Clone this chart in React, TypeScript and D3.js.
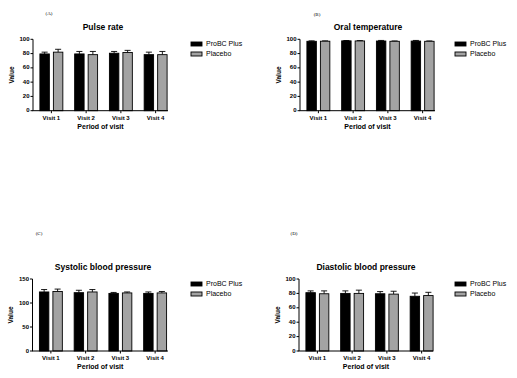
import React from "react";
import * as d3 from "d3";

const visits = ["Visit 1", "Visit 2", "Visit 3", "Visit 4"];
const seriesNames = ["ProBC Plus", "Placebo"];

const pulseProbc = [79.5, 79.5, 80.5, 78.5];
const pulseProbcErr = [2.5, 3.5, 2.5, 3.5];
const pulsePlacebo = [82, 78.5, 81.5, 78.5];
const pulsePlaceboErr = [4, 4.5, 3, 4.5];

const tempProbc = [97.2, 97.8, 97.6, 97.5];
const tempProbcErr = [0.6, 0.5, 0.8, 0.9];
const tempPlacebo = [97.3, 97.7, 97.2, 97.2];
const tempPlaceboErr = [0.5, 0.5, 0.5, 0.5];

const sysProbc = [123, 121.5, 120, 120];
const sysProbcErr = [5, 5, 2, 3];
const sysPlacebo = [124, 123, 121, 121];
const sysPlaceboErr = [5, 5, 2, 3];

const diaProbc = [81, 80, 79.5, 76];
const diaProbcErr = [2.5, 3.5, 3, 4.5];
const diaPlacebo = [79.5, 80, 79, 77];
const diaPlaceboErr = [4, 4.5, 4, 4.5];

const ticks100 = [0, 20, 40, 60, 80, 100];
const ticks150 = [0, 50, 100, 150];

const colors = ["#000000", "#a3a3a3"];
const SANS = "Liberation Sans, Arial, sans-serif";

type PanelProps = {
  tag: string;
  tagX: number;
  tagY: number;
  title: string;
  titleX: number;
  titleY: number;
  axisX: number;
  axisRight: number;
  yTop: number;
  yBottom: number;
  yMax: number;
  ticks: number[];
  values: number[][];
  errs: number[][];
  legendX: number;
  legendY: number;
};

function Panel(p: PanelProps) {
  const y = d3.scaleLinear().domain([0, p.yMax]).range([p.yBottom, p.yTop]);
  const x0 = d3
    .scaleBand<string>()
    .domain(visits)
    .range([p.axisX + 1, p.axisX + 140])
    .paddingInner(0.34)
    .paddingOuter(0.17);
  const x1 = d3
    .scaleBand<string>()
    .domain(seriesNames)
    .range([0, x0.bandwidth()])
    .paddingInner(0.3);
  const bw = x1.bandwidth();
  return (
    <g>
      <text x={p.tagX} y={p.tagY} fontFamily="Liberation Serif, serif" fontSize={5} textAnchor="middle">
        {p.tag}
      </text>
      <text x={p.titleX} y={p.titleY} fontFamily={SANS} fontWeight="bold" fontSize={8.5} textAnchor="middle" dominantBaseline="middle">
        {p.title}
      </text>
      {visits.map((v, i) =>
        seriesNames.map((s, j) => {
          const val = p.values[j][i];
          const e = p.errs[j][i];
          const bx = (x0(v) as number) + (x1(s) as number);
          const cx = bx + bw / 2;
          return (
            <g key={v + s}>
              <line x1={cx} x2={cx} y1={y(val)} y2={y(val + e)} stroke="#000" strokeWidth={0.9} />
              <line x1={cx - bw * 0.32} x2={cx + bw * 0.32} y1={y(val + e)} y2={y(val + e)} stroke="#000" strokeWidth={0.9} />
              <rect x={bx} y={y(val)} width={bw} height={y(0) - y(val)} fill={colors[j]} stroke="#000" strokeWidth={0.9} />
            </g>
          );
        })
      )}
      {/* y axis */}
      <line x1={p.axisX} x2={p.axisX} y1={p.yTop} y2={p.yBottom} stroke="#000" strokeWidth={1} />
      {p.ticks.map((t) => (
        <g key={t}>
          <line x1={p.axisX - 2.5} x2={p.axisX} y1={y(t)} y2={y(t)} stroke="#000" strokeWidth={1} />
          <text x={p.axisX - 3.5} y={y(t)} fontFamily={SANS} fontWeight="bold" fontSize={6} textAnchor="end" dominantBaseline="middle">
            {t}
          </text>
        </g>
      ))}
      <text
        transform={`translate(${p.axisX - 21},${(p.yTop + p.yBottom) / 2}) rotate(-90)`}
        fontFamily={SANS}
        fontWeight="bold"
        fontSize={6.5}
        textAnchor="middle"
        dominantBaseline="middle"
      >
        Value
      </text>
      {/* x axis */}
      <line x1={p.axisX - 0.5} x2={p.axisRight} y1={p.yBottom} y2={p.yBottom} stroke="#000" strokeWidth={1} />
      {visits.map((v) => {
        const cx = (x0(v) as number) + x0.bandwidth() / 2;
        return (
          <g key={v}>
            <line x1={cx} x2={cx} y1={p.yBottom} y2={p.yBottom + 2.5} stroke="#000" strokeWidth={1} />
            <text x={cx} y={p.yBottom + 7.5} fontFamily={SANS} fontWeight="bold" fontSize={6} textAnchor="middle" dominantBaseline="middle">
              {v}
            </text>
          </g>
        );
      })}
      <text
        x={(p.axisX + p.axisRight) / 2}
        y={p.yBottom + 16}
        fontFamily={SANS}
        fontWeight="bold"
        fontSize={7}
        textAnchor="middle"
        dominantBaseline="middle"
      >
        Period of visit
      </text>
      {/* legend */}
      {seriesNames.map((s, j) => (
        <g key={s}>
          <rect x={p.legendX} y={p.legendY + j * 10 - 2} width={11} height={4} fill={colors[j]} stroke="#000" strokeWidth={0.9} />
          <text x={p.legendX + 15} y={p.legendY + j * 10} fontFamily={SANS} fontSize={7} dominantBaseline="middle">
            {s}
          </text>
        </g>
      ))}
    </g>
  );
}

export default function App() {
  return (
    <svg width={517} height={378} style={{ position: "absolute", left: 0, top: 0, background: "#fff" }}>
      <rect x={0} y={0} width={517} height={378} fill="#fff" />
      <Panel
        tag="(A)" tagX={49} tagY={15}
        title="Pulse rate" titleX={103} titleY={28}
        axisX={33} axisRight={168} yTop={39.3} yBottom={110.7} yMax={100} ticks={ticks100}
        values={[pulseProbc, pulsePlacebo]} errs={[pulseProbcErr, pulsePlaceboErr]}
        legendX={191} legendY={44}
      />
      <Panel
        tag="(B)" tagX={317} tagY={16}
        title="Oral temperature" titleX={368} titleY={28}
        axisX={300} axisRight={435} yTop={39.3} yBottom={110.7} yMax={100} ticks={ticks100}
        values={[tempProbc, tempPlacebo]} errs={[tempProbcErr, tempPlaceboErr]}
        legendX={455} legendY={44}
      />
      <Panel
        tag="(C)" tagX={39} tagY={235}
        title="Systolic blood pressure" titleX={103} titleY={268}
        axisX={32.5} axisRight={168} yTop={279} yBottom={351} yMax={150} ticks={ticks150}
        values={[sysProbc, sysPlacebo]} errs={[sysProbcErr, sysPlaceboErr]}
        legendX={191} legendY={284}
      />
      <Panel
        tag="(D)" tagX={294} tagY={235}
        title="Diastolic blood pressure" titleX={366} titleY={268}
        axisX={299} axisRight={433} yTop={279} yBottom={351} yMax={100} ticks={ticks100}
        values={[diaProbc, diaPlacebo]} errs={[diaProbcErr, diaPlaceboErr]}
        legendX={455} legendY={284}
      />
    </svg>
  );
}
